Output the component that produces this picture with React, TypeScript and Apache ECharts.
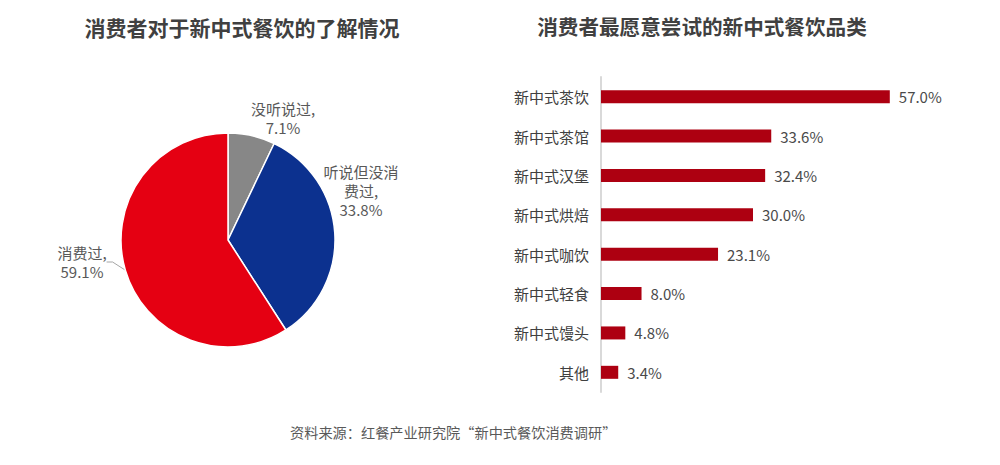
import React, { useEffect, useRef } from "react";
import * as echarts from "echarts";

const pieNames = ["没听说过", "听说但没消费过", "消费过"];
const pieValues = [7.1, 33.8, 59.1];
const pieColors = ["#878787", "#0c318f", "#e50012"];

const barCategories = ["新中式茶饮", "新中式茶馆", "新中式汉堡", "新中式烘焙", "新中式咖饮", "新中式轻食", "新中式馒头", "其他"];
const barValues = [57.0, 33.6, 32.4, 30.0, 23.1, 8.0, 4.8, 3.4];

const leftTitle = "消费者对于新中式餐饮的了解情况";
const rightTitle = "消费者最愿意尝试的新中式餐饮品类";
const sourceText = "资料来源：红餐产业研究院“新中式餐饮消费调研”";

const FONT = "'Noto Sans CJK SC', 'Noto Sans', sans-serif";

// label anchor positions for pie labels (layout, px)
const pieLabelPos = [
  [283, 118],
  [361, 190],
  [82, 262],
];

export default function App() {
  const ref = useRef<HTMLDivElement>(null);
  useEffect(() => {
    if (!ref.current) return;
    const chart = echarts.init(ref.current, null, { renderer: "svg" });
    chart.setOption({
      animation: false,
      backgroundColor: "#ffffff",
      textStyle: { fontFamily: FONT },
      title: [
        {
          text: leftTitle,
          left: 237,
          top: 11,
          textAlign: "center",
          textStyle: { fontSize: 21, fontWeight: "bold", color: "#404040", fontFamily: FONT },
        },
        {
          text: rightTitle,
          left: 697,
          top: 11,
          textAlign: "center",
          textStyle: { fontSize: 20.6, fontWeight: "bold", color: "#404040", fontFamily: FONT },
        },
      ],
      grid: { left: 601, top: 77, width: 304, height: 315 },
      xAxis: { type: "value", min: 0, max: 60, show: false },
      yAxis: {
        type: "category",
        inverse: true,
        data: barCategories,
        axisLine: { show: true, lineStyle: { color: "#d9d9d9", width: 2 } },
        axisTick: { show: false },
        axisLabel: { margin: 12, fontSize: 15, color: "#404040", fontFamily: FONT },
      },
      series: [
        {
          type: "bar",
          data: barValues,
          barWidth: 13,
          itemStyle: { color: "#ad0011" },
          label: {
            show: true,
            position: "right",
            distance: 9,
            fontSize: 15,
            color: "#4a4a4a",
            fontFamily: FONT,
            formatter: (p: any) => p.value.toFixed(1) + "%",
          },
        },
        {
          type: "pie",
          center: [228, 240],
          radius: 107,
          startAngle: 90,
          clockwise: true,
          percentPrecision: 1,
          itemStyle: { borderColor: "#ffffff", borderWidth: 1.5 },
          emphasis: { disabled: true },
          data: pieNames.map((n, i) => ({
            name: n,
            value: pieValues[i],
            itemStyle: { color: pieColors[i] },
            labelLine: { show: i === 2, length: 8, length2: 6, lineStyle: { color: "#a6a6a6", width: 1 } },
          })),
          label: {
            show: true,
            position: "outside",
            fontSize: 15,
            lineHeight: 19,
            color: "#595959",
            align: "center",
            fontFamily: FONT,
            formatter: (p: any) => {
              const n: string = p.name;
              const wrapped = n.length > 5 ? n.slice(0, 5) + "\n" + n.slice(5) : n;
              return wrapped + ",\n" + p.value.toFixed(1) + "%";
            },
          },
          labelLayout: (params: any) => {
            const pos = pieLabelPos[params.dataIndex];
            return { x: pos[0], y: pos[1], align: "center", verticalAlign: "middle" };
          },
        },
      ],
      graphic: [
        {
          type: "text",
          left: 290,
          top: 425,
          style: { text: sourceText, fontSize: 14.2, fill: "#595959", fontFamily: FONT },
        },
      ],
    });
    return () => chart.dispose();
  }, []);
  return <div ref={ref} style={{ position: "fixed", left: 0, top: 0, width: 1000, height: 465 }} />;
}
